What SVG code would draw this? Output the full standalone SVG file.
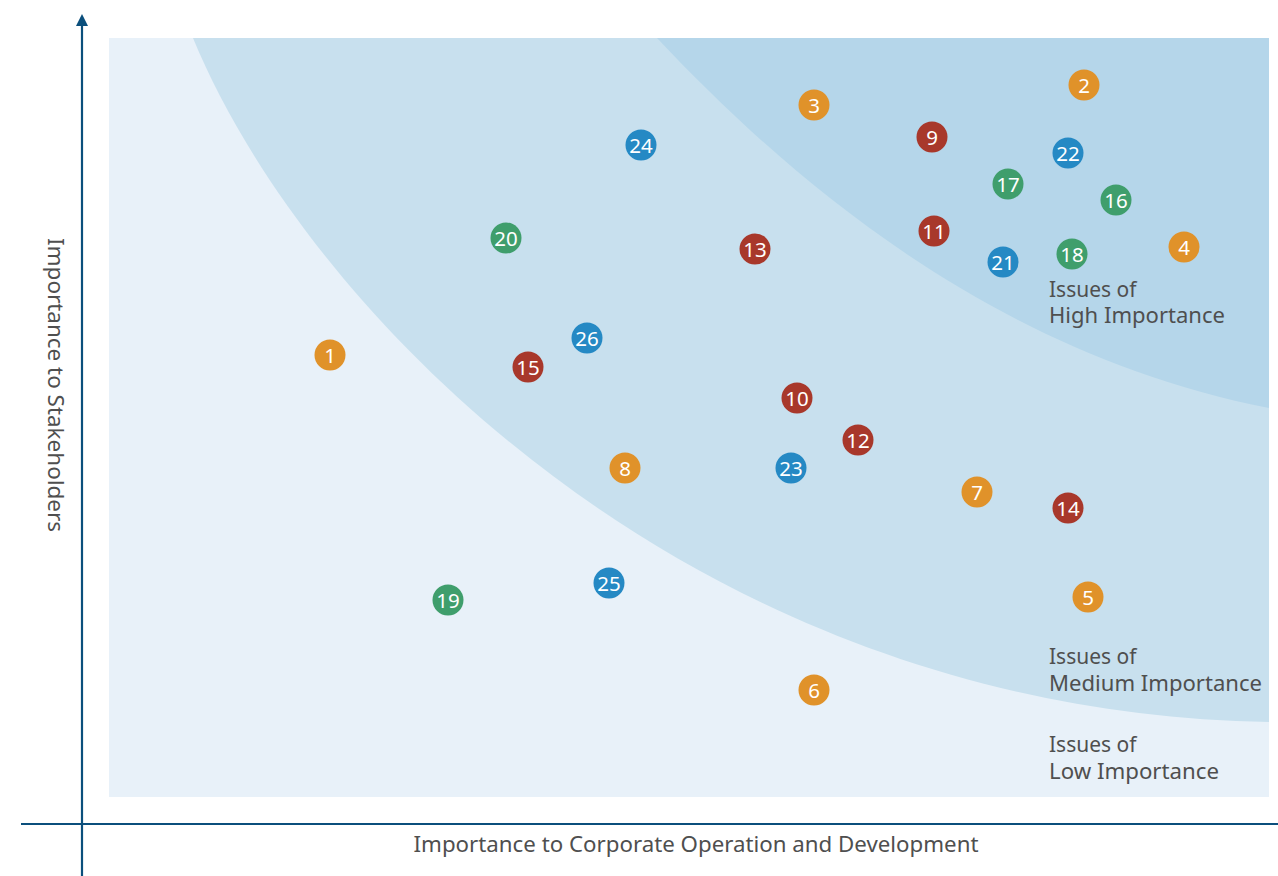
<svg xmlns="http://www.w3.org/2000/svg" width="1278" height="876" viewBox="0 0 1278 876">
<defs>
<style>
.axis{stroke:#0b4f7c;stroke-width:2.2;fill:none}
.lbl{font-family:"Noto Sans","Open Sans",sans-serif;font-size:21px;fill:#4f4f4f}
.num{font-family:"Noto Sans","Open Sans",sans-serif;font-size:20.5px;fill:#ffffff;text-anchor:middle;dominant-baseline:central}
.o{fill:#e0922a}.r{fill:#a8382b}.b{fill:#2589c4}.g{fill:#3f9e6c}
</style>
</defs>
<rect width="1278" height="876" fill="#ffffff"/>
<g id="zones">
<rect x="109" y="38" width="1160" height="759" fill="#e8f1f9"/>
<path d="M193,38 C305,310 690,712 1269,722 L1269,38 Z" fill="#c8e0ee"/>
<path d="M657,38 C800,190 1000,355 1269,408 L1269,38 Z" fill="#b5d6ea"/>
</g>
<g id="connectors">
<line class="axis" x1="82" y1="876" x2="82" y2="17"/>
<path d="M76,26 L82,14 L88,26 Z" fill="#0b4f7c"/>
<line class="axis" x1="21" y1="824" x2="1278" y2="824"/>
</g>
<g id="labels">
<text class="lbl" x="696" y="852" text-anchor="middle" textLength="565" lengthAdjust="spacingAndGlyphs">Importance to Corporate Operation and Development</text>
<text class="lbl" transform="translate(48,385) rotate(90)" text-anchor="middle" textLength="294" lengthAdjust="spacingAndGlyphs">Importance to Stakeholders</text>
<text class="lbl" x="1049" y="297">Issues of</text>
<text class="lbl" x="1049" y="323" textLength="176" lengthAdjust="spacingAndGlyphs">High Importance</text>
<text class="lbl" x="1049" y="664">Issues of</text>
<text class="lbl" x="1049" y="691" textLength="213" lengthAdjust="spacingAndGlyphs">Medium Importance</text>
<text class="lbl" x="1049" y="752">Issues of</text>
<text class="lbl" x="1049" y="779" textLength="170" lengthAdjust="spacingAndGlyphs">Low Importance</text>
</g>
<g id="n1"><circle class="o" cx="330" cy="355" r="15.5"/><text class="num" x="330" y="355">1</text></g>
<g id="n2"><circle class="o" cx="1084" cy="85" r="15.5"/><text class="num" x="1084" y="85">2</text></g>
<g id="n3"><circle class="o" cx="814" cy="105" r="15.5"/><text class="num" x="814" y="105">3</text></g>
<g id="n4"><circle class="o" cx="1184" cy="247" r="15.5"/><text class="num" x="1184" y="247">4</text></g>
<g id="n5"><circle class="o" cx="1088" cy="597" r="15.5"/><text class="num" x="1088" y="597">5</text></g>
<g id="n6"><circle class="o" cx="814" cy="690" r="15.5"/><text class="num" x="814" y="690">6</text></g>
<g id="n7"><circle class="o" cx="977" cy="492" r="15.5"/><text class="num" x="977" y="492">7</text></g>
<g id="n8"><circle class="o" cx="625" cy="468" r="15.5"/><text class="num" x="625" y="468">8</text></g>
<g id="n9"><circle class="r" cx="932" cy="137" r="15.5"/><text class="num" x="932" y="137">9</text></g>
<g id="n10"><circle class="r" cx="797" cy="398" r="15.5"/><text class="num" x="797" y="398">10</text></g>
<g id="n11"><circle class="r" cx="934" cy="231" r="15.5"/><text class="num" x="934" y="231">11</text></g>
<g id="n12"><circle class="r" cx="858" cy="440" r="15.5"/><text class="num" x="858" y="440">12</text></g>
<g id="n13"><circle class="r" cx="755" cy="249" r="15.5"/><text class="num" x="755" y="249">13</text></g>
<g id="n14"><circle class="r" cx="1068" cy="508" r="15.5"/><text class="num" x="1068" y="508">14</text></g>
<g id="n15"><circle class="r" cx="528" cy="367" r="15.5"/><text class="num" x="528" y="367">15</text></g>
<g id="n16"><circle class="g" cx="1116" cy="200" r="15.5"/><text class="num" x="1116" y="200">16</text></g>
<g id="n17"><circle class="g" cx="1008" cy="184" r="15.5"/><text class="num" x="1008" y="184">17</text></g>
<g id="n18"><circle class="g" cx="1072" cy="254" r="15.5"/><text class="num" x="1072" y="254">18</text></g>
<g id="n19"><circle class="g" cx="448" cy="600" r="15.5"/><text class="num" x="448" y="600">19</text></g>
<g id="n20"><circle class="g" cx="506" cy="238" r="15.5"/><text class="num" x="506" y="238">20</text></g>
<g id="n21"><circle class="b" cx="1003" cy="262" r="15.5"/><text class="num" x="1003" y="262">21</text></g>
<g id="n22"><circle class="b" cx="1068" cy="153" r="15.5"/><text class="num" x="1068" y="153">22</text></g>
<g id="n23"><circle class="b" cx="791" cy="468" r="15.5"/><text class="num" x="791" y="468">23</text></g>
<g id="n24"><circle class="b" cx="641" cy="145" r="15.5"/><text class="num" x="641" y="145">24</text></g>
<g id="n25"><circle class="b" cx="609" cy="583" r="15.5"/><text class="num" x="609" y="583">25</text></g>
<g id="n26"><circle class="b" cx="587" cy="338" r="15.5"/><text class="num" x="587" y="338">26</text></g>
</svg>
